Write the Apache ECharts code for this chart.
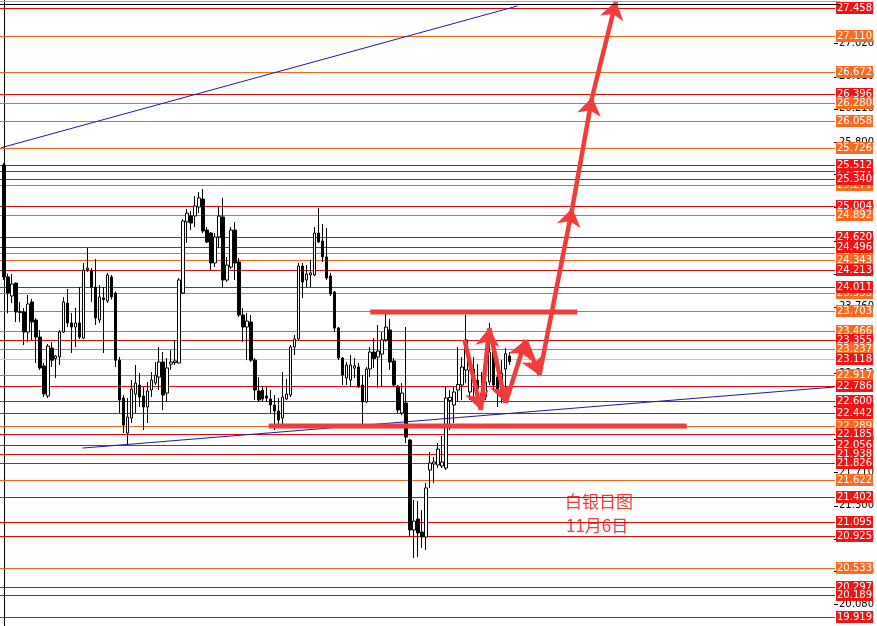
<!DOCTYPE html>
<html><head><meta charset="utf-8">
<script src="https://cdn.jsdelivr.net/npm/echarts@6/dist/echarts.min.js"></script>
<style>html,body{margin:0;padding:0;background:#fff}#c{width:877px;height:626px}</style>
</head><body><div id="c"></div><script>
// Daily candles: [open, close, low, high]
const candles = [
[25.515,24.129,24.092,25.540],[24.13,23.93,23.68,24.17],[23.894,24.042,23.807,24.166],[24.054,23.696,23.572,24.06],
[23.70,23.69,23.57,23.82],[23.696,23.448,23.287,23.745],[23.448,23.795,23.325,23.906],[23.82,23.572,23.35,23.857],
[23.597,23.386,23.065,23.62],[23.386,23.003,22.978,23.473],[23.028,22.681,22.644,23.065],[22.656,23.275,22.63,23.30],
[23.25,23.10,23.015,23.325],[23.12,23.15,22.879,23.163],[23.14,23.448,23.04,23.473],[23.448,23.82,23.436,23.88],
[23.807,23.56,23.51,23.98],[23.56,23.51,23.188,23.684],[23.51,23.56,23.263,23.745],[23.56,23.386,23.36,24.005],
[23.373,24.215,23.36,24.302],[24.22,24.24,24.19,24.488],[24.203,24.005,23.82,24.24],[24.005,23.622,23.535,24.352],
[23.597,23.882,23.56,24.03],[23.87,23.85,23.188,24.005],[23.832,24.154,23.807,24.18],[24.13,23.882,23.85,24.154],
[23.93,23.10,23.015,23.95],[23.10,22.607,22.446,23.14],[22.632,22.297,22.198,22.67],[22.198,22.396,22.05,22.632],
[22.384,22.743,22.322,22.854],[22.68,22.817,22.446,23.04],[22.792,22.644,22.52,22.941],[22.656,22.52,22.235,22.767],
[22.52,22.718,22.322,22.83],[22.73,22.854,22.644,22.953],[22.817,22.916,22.792,23.077],[22.891,23.077,22.73,23.263],
[23.077,22.669,22.483,23.20],[22.693,23.003,22.582,23.126],[23.05,23.077,22.978,23.225],[23.07,23.09,23.04,23.35],
[23.064,24.092,23.064,24.117],[23.93,24.822,23.92,24.847],[24.81,24.92,24.55,24.97],[24.884,24.797,24.71,24.946],
[24.884,25.008,24.747,25.131],[24.995,25.107,24.92,25.181],[25.094,24.698,24.673,25.218],[24.71,24.562,24.55,24.747],
[24.673,24.302,24.215,24.686],[24.302,24.624,24.253,24.673],[24.624,24.884,24.50,24.995],[24.872,24.092,24.005,25.107],
[24.092,24.277,24.067,24.376],[24.252,24.71,24.228,24.747],[24.71,24.302,24.092,24.81],[24.315,23.659,23.634,24.364],
[23.659,23.51,23.325,23.745],[23.51,23.584,23.10,23.684],[23.572,23.10,23.077,23.659],[23.10,22.73,22.607,23.126],
[22.718,22.607,22.582,22.891],[22.73,22.619,22.582,22.78],[22.656,22.63,22.582,22.767],[22.619,22.545,22.446,22.73],
[22.545,22.47,22.235,22.669],[22.47,22.359,22.297,22.632],[22.384,22.644,22.297,22.953],[22.619,22.681,22.607,22.867],
[22.669,23.263,22.644,23.287],[23.263,23.362,23.163,23.411],[23.362,24.265,23.35,24.302],[24.265,24.067,23.869,24.302],
[24.092,24.166,24.005,24.277],[24.154,24.18,24.005,24.34],[24.154,24.673,24.141,24.747],[24.673,24.562,24.55,24.983],
[24.574,24.377,24.315,24.785],[24.377,24.117,24.092,24.735],[24.141,23.918,23.894,24.18],[23.943,23.497,23.448,23.956],
[23.497,23.126,23.10,23.51],[23.126,22.916,22.792,23.138],[22.879,23.04,22.792,23.077],[22.854,23.04,22.767,23.163],
[23.00,23.03,22.879,23.126],[23.015,22.767,22.755,23.064],[22.792,22.582,22.297,22.916],[22.582,22.99,22.57,23.015],
[22.99,23.20,22.891,23.263],[23.20,23.12,23.003,23.374],[23.138,23.213,22.755,23.535],[23.175,23.35,22.767,23.448],
[23.35,23.51,23.325,23.72],[23.473,23.077,22.978,23.61],[23.09,22.792,22.78,23.126],[22.767,22.483,22.446,22.792],
[22.446,22.693,22.42,22.817],[22.57,22.148,22.074,23.51],[22.111,20.998,20.92,22.124],[20.998,21.109,20.651,21.369],
[21.134,20.961,20.663,21.357],[20.973,20.911,20.775,21.245],[20.911,21.518,20.75,21.58],[21.74,21.827,21.518,21.963],
[21.815,21.84,21.58,21.90],[21.802,21.999,21.765,22.074],[21.79,21.84,21.765,22.16],[21.765,22.632,21.74,22.767],
[22.60,22.64,22.235,22.73],[22.545,22.706,22.322,22.767],[22.73,22.80,22.582,23.263],[22.792,23.015,22.607,23.138],
[22.978,23.35,22.817,23.659],[22.706,22.978,22.607,23.163],[22.99,22.85,22.607,23.138],[22.85,22.75,22.644,23.05],
[22.693,22.655,22.483,22.953],[22.644,22.83,22.607,23.10],[22.83,23.20,22.79,23.56],[23.25,22.792,22.73,23.263],
[22.891,22.73,22.52,22.94],[22.705,22.94,22.57,23.10],[22.99,23.18,22.62,23.25],[23.15,23.08,23.04,23.20]
];
const slotCount = 209; // bars + empty space to the right
const categories = Array.from({length: slotCount}, (_, i) => String(i + 1));

const redLevels = [27.458,26.396,25.512,25.340,25.004,24.620,24.496,24.213,24.011,23.355,23.118,22.786,22.600,22.442,22.185,22.056,21.938,21.826,21.402,21.095,20.925,20.297,20.189,19.919];
const orangeLevels = [27.110,26.672,26.280,26.058,25.726,24.892,24.343,23.703,23.466,23.237,22.917,22.289,21.622,20.533];
const redLevelsBehind = [25.441];
const orangeLevelsBehind = [25.271,24.420,23.933];
const bidPrice = 23.118;
const axisTickValues = [27.020,26.610,26.210,25.800,25.400,24.990,24.580,24.170,23.760,23.350,22.940,22.530,22.120,21.710,21.300,20.890,20.490,20.080];

const upperTrend = [[-1,25.725],[129,27.483]];
const lowerTrend = [[19.75,22.012],[208.5,22.767]];
const resistanceBar = [[92,23.696],[144,23.696]];
const supportBar = [[66.5,22.285],[171.5,22.285]];
const pathPoints = [[115.7,23.349],[119.8,22.483],[121.9,23.498],[126,22.569],[131,23.349],[134.5,22.916],[142.75,24.983],[147.75,26.357],[153.75,27.545]];
const noteLines = ['白银日图','11月6日'];

// styles: 0 red level, 1 orange level, 2 bid line
const levelStyles = [
  {line: '#d80c0c', box: '#f01414'},
  {line: '#f06818', box: '#fb6a1e'},
  {line: '#c4c0c8', box: null}
];
const ANN = '#f23c3c';

const levelRows = [].concat(
  orangeLevelsBehind.map(v => [v, 1]),
  redLevelsBehind.map(v => [v, 0]),
  [].concat(redLevels.map(v => [v, 0]), orangeLevels.map(v => [v, 1])).sort((a, b) => b[0] - a[0]),
  [[bidPrice, 2]]
);

function renderLevel(params, api) {
  const v = api.value(0), kind = api.value(1);
  const cs = params.coordSys;
  const yy = Math.round(api.coord([0, v])[1]);
  const st = levelStyles[kind];
  const right = cs.x + cs.width;
  const children = [{type: 'rect', shape: {x: 0, y: yy, width: right + 1, height: 1},
    style: {fill: st.line}}];
  if (st.box) {
    children.push({type: 'rect', shape: {x: right + 2, y: yy - 6, width: 37, height: 12}, style: {fill: st.box}});
    children.push({type: 'text', x: right + 3, y: yy - 5,
      style: {text: v.toFixed(3), fill: '#fff', font: '10px "DejaVu Sans"', verticalAlign: 'top', align: 'left'}});
  }
  return {type: 'group', children};
}
function renderTick(params, api) {
  const cs = params.coordSys;
  const yy = Math.round(api.coord([0, api.value(0)])[1]);
  const right = cs.x + cs.width;
  return {type: 'rect', shape: {x: right, y: yy, width: 4, height: 1}, style: {fill: '#000'}};
}

const arrowSegs = [];
for (let i = 0; i < pathPoints.length - 1; i++) arrowSegs.push({coords: [pathPoints[i], pathPoints[i + 1]]});

const chart = echarts.init(document.getElementById('c'));
chart.setOption({
  animation: false,
  backgroundColor: '#ffffff',
  grid: {left: 2, right: 39, top: 0, bottom: 0, containLabel: false},
  xAxis: [
    {type: 'category', data: categories, show: false, boundaryGap: true},
    {type: 'value', min: -0.5, max: slotCount - 0.5, show: false}
  ],
  yAxis: [{
    type: 'value', position: 'right', min: 19.810, max: 27.557,
    axisLine: {show: true, lineStyle: {color: '#000', width: 1}},
    axisTick: {show: false},
    axisLabel: {customValues: axisTickValues, color: '#000', fontSize: 10, fontFamily: 'DejaVu Sans', margin: 5,
      formatter: v => v.toFixed(3)},
    splitLine: {show: false}
  }],
  series: [
    {type: 'custom', xAxisIndex: 1, yAxisIndex: 0, z: 1, silent: true, clip: false,
     encode: {x: -1, y: -1}, data: axisTickValues.map(v => [v]), renderItem: renderTick},
    {type: 'custom', xAxisIndex: 1, yAxisIndex: 0, z: 1, silent: true, clip: false,
     encode: {x: -1, y: -1}, data: levelRows, renderItem: renderLevel},
    {
      type: 'candlestick', xAxisIndex: 0, yAxisIndex: 0, data: candles, z: 3, barWidth: 3,
      itemStyle: {color: '#ffffff', color0: '#000000', borderColor: '#000000', borderColor0: '#000000', borderWidth: 1}
    },
    {type: 'line', xAxisIndex: 1, yAxisIndex: 0, data: upperTrend, showSymbol: false, z: 4, lineStyle: {color: '#1a1aa8', width: 1}},
    {type: 'line', xAxisIndex: 1, yAxisIndex: 0, data: lowerTrend, showSymbol: false, z: 4, lineStyle: {color: '#1a1aa8', width: 1}},
    {type: 'line', xAxisIndex: 1, yAxisIndex: 0, data: resistanceBar, showSymbol: false, z: 5, lineStyle: {color: ANN, width: 5}},
    {type: 'line', xAxisIndex: 1, yAxisIndex: 0, data: supportBar, showSymbol: false, z: 5, lineStyle: {color: ANN, width: 5}},
    {
      type: 'lines', coordinateSystem: 'cartesian2d', xAxisIndex: 1, yAxisIndex: 0, z: 6,
      symbol: ['none', 'arrow'], symbolSize: [14, 18],
      lineStyle: {color: ANN, width: 4.5, opacity: 1, curveness: 0},
      data: arrowSegs
    }
  ],
  graphic: [
    {type: 'line', shape: {x1: 0, y1: 1.5, x2: 840, y2: 1.5}, style: {stroke: '#a8a8a8', lineWidth: 1}, z: 10},
    {type: 'line', shape: {x1: 0, y1: 4.5, x2: 840, y2: 4.5}, style: {stroke: '#000', lineWidth: 1}, z: 10},
    {type: 'text', left: 565, top: 493, style: {text: noteLines[0], fill: ANN, font: '17px "Noto Sans CJK SC"'}},
    {type: 'text', left: 566, top: 517, style: {text: noteLines[1], fill: ANN, font: '17px "Noto Sans CJK SC"'}}
  ]
});
</script></body></html>
